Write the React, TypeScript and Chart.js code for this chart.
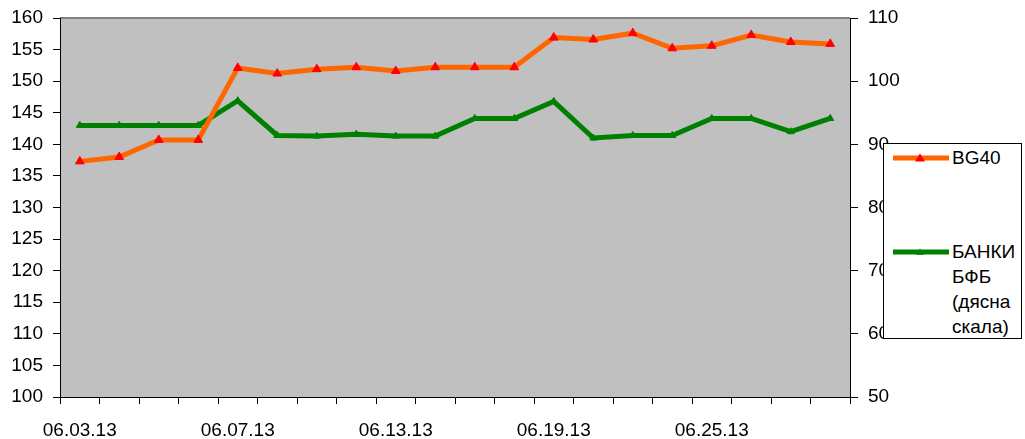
import React, { useEffect, useRef } from 'react';
import { Chart, registerables } from 'chart.js';

Chart.register(...registerables);

const categories = [
  '06.03.13', '06.04.13', '06.05.13', '06.06.13', '06.07.13',
  '06.10.13', '06.11.13', '06.12.13', '06.13.13', '06.14.13',
  '06.17.13', '06.18.13', '06.19.13', '06.20.13', '06.21.13',
  '06.24.13', '06.25.13', '06.26.13', '06.27.13', '06.28.13',
];
const bg40 = [
  137.3, 138.0, 140.7, 140.7, 152.1, 151.2, 151.9, 152.2, 151.6, 152.2,
  152.2, 152.2, 156.9, 156.6, 157.6, 155.2, 155.6, 157.3, 156.2, 155.9,
];
const banki = [
  93.0, 93.0, 93.0, 93.0, 96.9, 91.4, 91.3, 91.6, 91.3, 91.3,
  94.1, 94.1, 96.8, 91.0, 91.4, 91.4, 94.1, 94.1, 92.0, 94.1,
];
const leftAxis = { min: 100, max: 160, step: 5 };
const rightAxis = { min: 50, max: 110, step: 10 };
const labelEvery = 4;
const seriesNames = ['BG40', 'БАНКИ БФБ (дясна скала)'];

const FONT = "'Liberation Sans', Arial, sans-serif";

const plotBg = {
  id: 'plotBg',
  beforeDraw(chart: any) {
    const { ctx, chartArea } = chart;
    const { left, top, right, bottom } = chartArea;
    ctx.save();
    ctx.fillStyle = '#C0C0C0';
    ctx.fillRect(left, top, right - left, bottom - top);
    ctx.strokeStyle = '#808080';
    ctx.lineWidth = 2;
    ctx.beginPath();
    ctx.moveTo(left, top);
    ctx.lineTo(right, top);
    ctx.stroke();
    ctx.restore();
  },
};

function LegendLine({ stroke, fill, size }: { stroke: string; fill: string; size: number }) {
  return (
    <svg width={56} height={12} style={{ display: 'block' }}>
      <line x1={0} y1={6} x2={56} y2={6} stroke={stroke} strokeWidth={5} />
      <polygon points={`${27 - size},${6 + size * 0.7} ${27 + size},${6 + size * 0.7} 27,${6 - size * 0.9}`} fill={fill} />
    </svg>
  );
}

export default function App() {
  const ref = useRef<HTMLCanvasElement | null>(null);

  useEffect(() => {
    if (!ref.current) return;
    const tickFont = { family: FONT, size: 19 };
    const fitY = (w: number) => (s: any) => {
      s.width = w;
      s.paddingTop = 0;
      s.paddingBottom = 0;
    };
    const chart = new Chart(ref.current, {
      type: 'line',
      data: {
        labels: categories,
        datasets: [
          {
            label: seriesNames[0],
            data: bg40,
            yAxisID: 'y',
            borderColor: '#FF6600',
            borderWidth: 5,
            pointStyle: 'triangle',
            pointRadius: 5,
            pointBackgroundColor: '#FF0000',
            pointBorderColor: '#FF0000',
            pointBorderWidth: 1,
            tension: 0,
          },
          {
            label: seriesNames[1],
            data: banki,
            yAxisID: 'y1',
            borderColor: '#008000',
            borderWidth: 5,
            pointStyle: 'triangle',
            pointRadius: 4,
            pointBackgroundColor: '#008000',
            pointBorderColor: '#008000',
            pointBorderWidth: 1,
            tension: 0,
          },
        ],
      },
      options: {
        responsive: false,
        animation: false,
        layout: { padding: { top: 18, left: 0, right: 0, bottom: 0 } },
        plugins: {
          legend: { display: false },
          tooltip: { enabled: false },
        },
        scales: {
          x: {
            type: 'category',
            offset: true,
            grid: { offset: true, drawOnChartArea: false, drawTicks: true, tickLength: 7, color: '#000' },
            border: { color: '#000', width: 1 },
            ticks: {
              autoSkip: false,
              maxRotation: 0,
              minRotation: 0,
              padding: 15,
              color: '#000',
              font: tickFont,
              callback: (_v: any, i: number) => (i % labelEvery === 0 ? categories[i] : ''),
            },
            afterFit: (s: any) => { s.height = 42; },
          },
          y: {
            position: 'left',
            min: leftAxis.min,
            max: leftAxis.max,
            grid: { drawOnChartArea: false, tickLength: 7, color: '#000' },
            border: { color: '#000', width: 1 },
            ticks: { stepSize: leftAxis.step, padding: 10, color: '#000', font: tickFont },
            afterFit: fitY(60),
          },
          y1: {
            position: 'right',
            min: rightAxis.min,
            max: rightAxis.max,
            grid: { drawOnChartArea: false, tickLength: 8, color: '#000' },
            border: { color: '#000', width: 1 },
            ticks: { stepSize: rightAxis.step, padding: 10, color: '#000', font: tickFont },
            afterFit: fitY(175),
          },
        },
      },
      plugins: [plotBg],
    } as any);
    return () => chart.destroy();
  }, []);

  const textStyle: React.CSSProperties = {
    position: 'absolute',
    left: 68,
    fontFamily: FONT,
    fontSize: 19,
    lineHeight: '25px',
    color: '#000',
    whiteSpace: 'nowrap',
  };

  return (
    <div style={{ position: 'absolute', left: 0, top: 0, width: 1025, height: 439, background: '#fff' }}>
      <canvas ref={ref} width={1025} height={439} style={{ display: 'block' }} />
      <div
        style={{
          position: 'absolute',
          left: 883,
          top: 143,
          width: 139,
          height: 196,
          background: '#fff',
          border: '1px solid #000',
          boxSizing: 'border-box',
        }}
      >
        <div style={{ position: 'absolute', left: 9, top: 8 }}>
          <LegendLine stroke="#FF6600" fill="#FF0000" size={5} />
        </div>
        <div style={{ ...textStyle, top: 1 }}>BG40</div>
        <div style={{ position: 'absolute', left: 9, top: 102 }}>
          <LegendLine stroke="#008000" fill="#008000" size={4} />
        </div>
        <div style={{ ...textStyle, top: 95 }}>
          БАНКИ<br />БФБ<br />(дясна<br />скала)
        </div>
      </div>
    </div>
  );
}
